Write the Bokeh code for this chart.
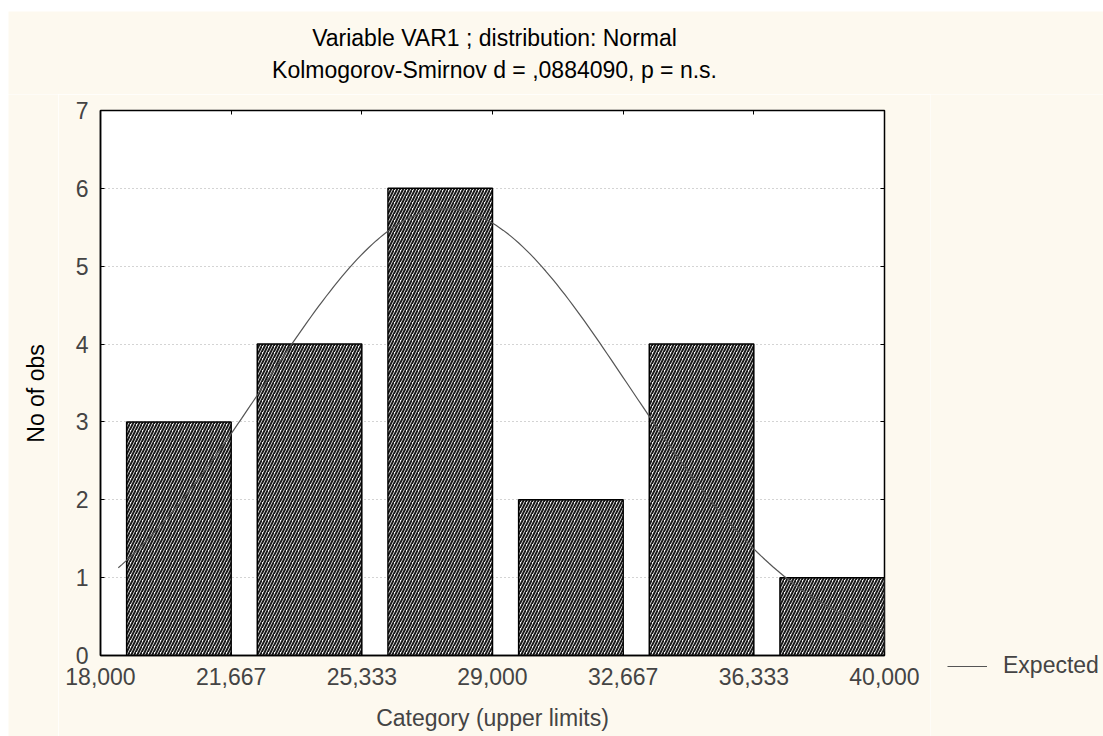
import numpy as np
from bokeh.plotting import figure
from bokeh.models import (Range1d, LinearAxis, FixedTicker, Legend,
                          LegendItem, Spacer, ColumnDataSource, CustomJSTickFormatter)
from bokeh.core.properties import value
from bokeh.layouts import column, row
from bokeh.embed import file_html
from bokeh.resources import INLINE

# ---- data ----
upper_limits = [21.667, 25.333, 29.0, 32.667, 36.333, 40.0]
counts = [3, 4, 6, 2, 4, 1]
tick_values = [18.0, 21.667, 25.333, 29.0, 32.667, 36.333, 40.0]
tick_labels = ["18,000", "21,667", "25,333", "29,000", "32,667", "36,333", "40,000"]
y_ticks = [0, 1, 2, 3, 4, 5, 6, 7]
title_lines = ["Variable VAR1 ; distribution: Normal",
               "Kolmogorov-Smirnov d = ,0884090, p = n.s."]
y_label = "No of obs"
x_label = "Category (upper limits)"
legend_label = "Expected"
# fitted normal (expected) parameters
n_obs = 20
bin_width = 3.667
fit_mean = 27.7
fit_sd = 5.1
curve_start = 18.5
curve_end = 40.0

FONT = "Liberation Sans"
FS = "23px"
CREAM = "#FDF9EF"

# layout sizes (px)
W_TOTAL, H_TOTAL = 1095, 725
TITLE_H = 83
TOP_PAD = 16
LEFT_W = 50
LEG_W = 173
MAIN_W = W_TOTAL - LEFT_W - LEG_W
ROW_H = H_TOTAL - TITLE_H

bar_frac = 0.8
lefts = [u - bar_frac * bin_width for u in upper_limits]
bars = ColumnDataSource(dict(left=lefts, right=upper_limits, top=counts,
                             bottom=[0] * len(counts)))

cx = np.linspace(curve_start, curve_end, 200)
cy = n_obs * bin_width / (fit_sd * np.sqrt(2 * np.pi)) * np.exp(-0.5 * ((cx - fit_mean) / fit_sd) ** 2)
curve_src = ColumnDataSource(dict(x=cx, y=cy))


def blank_fig(w, h, xr=None, yr=None):
    f = figure(width=w, height=h,
               x_range=xr if xr is not None else Range1d(0, w),
               y_range=yr if yr is not None else Range1d(0, h),
               output_backend="svg", toolbar_location=None,
               background_fill_color=CREAM, border_fill_color=CREAM,
               min_border=0, x_axis_location=None, y_axis_location=None)
    f.frame_align = False
    f.outline_line_color = None
    f.xgrid.visible = False
    f.ygrid.visible = False
    return f


# ---- title strip ----
tf = blank_fig(W_TOTAL, TITLE_H)
tf.text(x=[486, 486], y=[TITLE_H - 26, TITLE_H - 58], text=title_lines,
        text_font=value(FONT), text_font_size=FS, text_align="center",
        text_baseline="alphabetic", text_color="black")

# ---- y label strip ----
lf = blank_fig(LEFT_W, ROW_H)
lf.text(x=[27], y=[ROW_H - (393 - 11 - TITLE_H)], text=[y_label], angle=np.pi / 2,
        text_font=value(FONT), text_font_size=FS, text_align="center",
        text_baseline="middle", text_color="black")

# ---- main plot ----
p = figure(width=MAIN_W, height=ROW_H, x_range=Range1d(18, 40), y_range=Range1d(0, 7),
           output_backend="svg", toolbar_location=None,
           background_fill_color="white", border_fill_color=CREAM,
           min_border_left=100 - 8 - LEFT_W, min_border_right=46, min_border_top=TOP_PAD,
           min_border_bottom=ROW_H - TOP_PAD - 545)
p.frame_align = False
p.outline_line_color = "black"
p.outline_line_width = 1.5

p.xgrid.visible = False
p.ygrid.ticker = FixedTicker(ticks=y_ticks)
p.ygrid.grid_line_color = "#a8a8a8"
p.ygrid.grid_line_dash = "1 3"
p.ygrid.grid_line_width = 1

xa = p.xaxis[0]
xa.ticker = FixedTicker(ticks=tick_values)
xa.major_label_overrides = {v: l for v, l in zip(tick_values, tick_labels)}
xa.axis_label = x_label
xa.axis_label_text_font = FONT
xa.axis_label_text_font_size = FS
xa.axis_label_text_font_style = "normal"
xa.axis_label_standoff = 17
xa.major_label_text_font = FONT
xa.major_label_text_font_size = FS
xa.major_label_standoff = 12
xa.major_tick_in = 4
xa.major_tick_out = 0
xa.minor_tick_line_color = None
xa.axis_line_color = "black"
xa.axis_line_width = 1.5

ya = p.yaxis[0]
ya.ticker = FixedTicker(ticks=y_ticks)
ya.major_label_text_font = FONT
ya.major_label_text_font_size = FS
ya.major_label_standoff = 12
ya.major_tick_in = 4
ya.major_tick_out = 0
ya.minor_tick_line_color = None
ya.axis_line_color = "black"
ya.axis_line_width = 1.5

blank = CustomJSTickFormatter(code="return ''")
top_ax = LinearAxis(ticker=FixedTicker(ticks=tick_values), formatter=blank,
                    major_label_text_font_size="0px",
                    major_label_standoff=0, major_tick_in=4, major_tick_out=0,
                    minor_tick_line_color=None, axis_line_color=None)
right_ax = LinearAxis(ticker=FixedTicker(ticks=y_ticks), formatter=blank,
                      major_label_text_font_size="0px",
                      major_label_standoff=0, major_tick_in=4, major_tick_out=0,
                      minor_tick_line_color=None, axis_line_color=None)
p.add_layout(top_ax, "above")
p.add_layout(right_ax, "right")

p.quad(left="left", right="right", bottom="bottom", top="top", source=bars,
       fill_color="white", line_color="black", line_width=1.5,
       hatch_pattern="/", hatch_color="#1a1a1a", hatch_scale=6, hatch_weight=2)

curve = p.line("x", "y", source=curve_src, line_color="#555555", line_width=1.2)

# ---- legend strip (its ranges keep the proxy line out of view) ----
leg = blank_fig(LEG_W, ROW_H, xr=Range1d(-200, -100), yr=Range1d(-200, -100))
proxy = leg.line("x", "y", source=curve_src, line_color="#555555", line_width=1.2)
legend = Legend(items=[LegendItem(label=legend_label, renderers=[proxy])],
                location=(17, 57), border_line_color=None, background_fill_alpha=0,
                padding=0, margin=0, glyph_width=40, glyph_height=24, label_height=24,
                label_standoff=16, label_text_font=FONT, label_text_font_size=FS,
                spacing=0)
leg.add_layout(legend)

layout = column(
    Spacer(height=11),
    row(Spacer(width=8), column(tf, row(lf, p, leg, spacing=0), spacing=0), spacing=0),
    spacing=0)
open("out.html", "w").write(file_html(layout, INLINE))
